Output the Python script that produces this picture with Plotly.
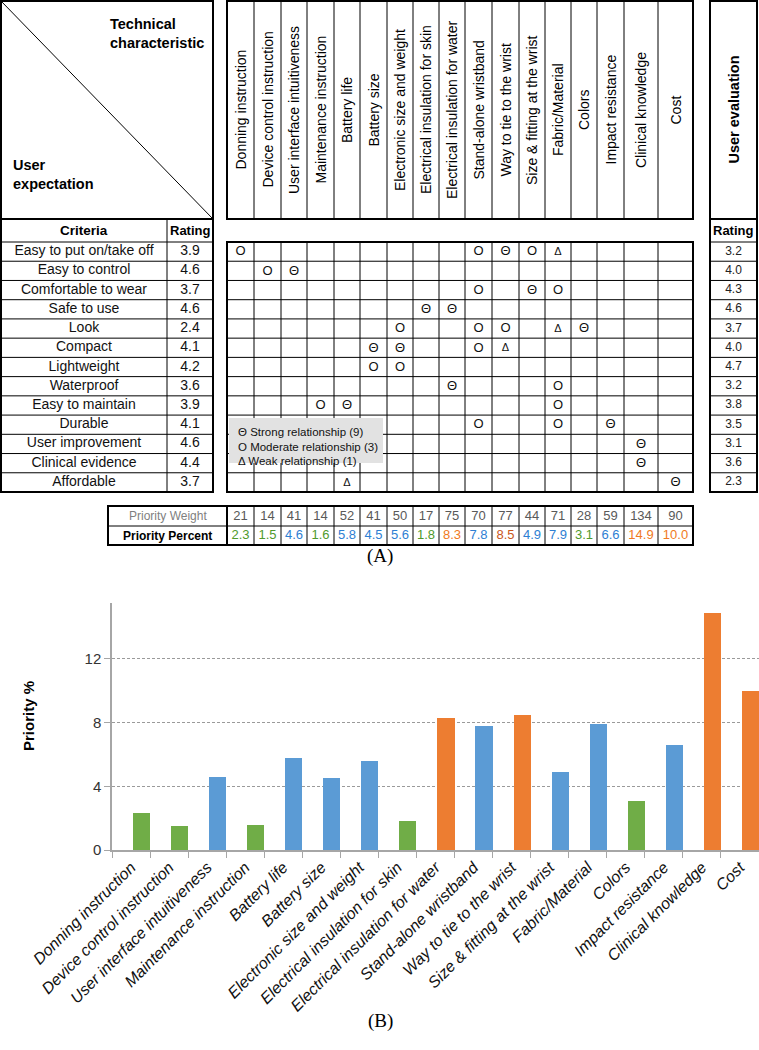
import plotly.graph_objects as go

# ---------------- data ----------------
tech_chars = ["Donning instruction", "Device control instruction", "User interface intuitiveness",
              "Maintenance instruction", "Battery life", "Battery size", "Electronic size and weight",
              "Electrical insulation for skin", "Electrical insulation for water", "Stand-alone wristband",
              "Way to tie to the wrist", "Size & fitting at the wrist", "Fabric/Material", "Colors",
              "Impact resistance", "Clinical knowledge", "Cost"]
criteria = ["Easy to put on/take off", "Easy to control", "Comfortable to wear", "Safe to use", "Look",
            "Compact", "Lightweight", "Waterproof", "Easy to maintain", "Durable", "User improvement",
            "Clinical evidence", "Affordable"]
expectation_rating = [3.9, 4.6, 3.7, 4.6, 2.4, 4.1, 4.2, 3.6, 3.9, 4.1, 4.6, 4.4, 3.7]
evaluation_rating = [3.2, 4.0, 4.3, 4.6, 3.7, 4.0, 4.7, 3.2, 3.8, 3.5, 3.1, 3.6, 2.3]
priority_weight = [21, 14, 41, 14, 52, 41, 50, 17, 75, 70, 77, 44, 71, 28, 59, 134, 90]
priority_percent = [2.3, 1.5, 4.6, 1.6, 5.8, 4.5, 5.6, 1.8, 8.3, 7.8, 8.5, 4.9, 7.9, 3.1, 6.6, 14.9, 10.0]
# (criterion index, technical characteristic index, symbol)
rel_row = [0, 0, 0, 0, 0, 1, 1, 2, 2, 2, 3, 3, 4, 4, 4, 4, 4, 5, 5, 5, 5, 6, 6, 7, 7, 8, 8, 8, 9, 9, 9, 10, 11, 12, 12]
rel_col = [0, 9, 10, 11, 12, 1, 2, 9, 11, 12, 7, 8, 6, 9, 10, 12, 13, 5, 6, 9, 10, 5, 6, 8, 12, 3, 4, 12, 9, 12, 14, 15, 15, 4, 16]
rel_sym = ["O", "O", "Θ", "O", "Δ", "O", "Θ", "O", "Θ", "O", "Θ", "Θ", "O", "O", "O", "Δ", "Θ", "Θ", "Θ", "O", "Δ",
           "O", "O", "Θ", "O", "O", "Θ", "O", "O", "O", "Θ", "Θ", "Θ", "Δ", "Θ"]
legend_lines = ["Θ Strong relationship (9)", "O Moderate relationship (3)", "Δ Weak relationship (1)"]

# ---------------- layout constants (pixel grid) ----------------
W, H = 759, 1050
col_edges = [227, 254, 281, 307, 334, 360, 387, 413, 439, 465, 492, 519, 545, 571, 597, 624, 658, 693]
head_top, head_bot = 1, 219
body_top, body_bot = 242, 492
n_rows = len(criteria)
row_h = (body_bot - body_top) / n_rows
row_edges = [body_top + i * row_h for i in range(n_rows + 1)]
row_mid = [body_top + (i + 0.5) * row_h for i in range(n_rows)]
col_mid = [(col_edges[i] + col_edges[i + 1]) / 2 for i in range(len(tech_chars))]
left_x0, left_div, left_x1 = 1, 167, 213
eval_x0, eval_x1 = 710, 757
bt_x0, bt_div, bt_x1 = 108, 227, 693
bt_y0, bt_ym, bt_y1 = 506, 526, 545

GREEN, BLUE, ORANGE = "#70AD47", "#5B9BD5", "#ED7D31"
TEXT_COL = {GREEN: "#4F9A2C", BLUE: "#2E80D3", ORANGE: "#F07A22"}


def group_color(v):
    if v < 4:
        return GREEN
    if v < 8:
        return BLUE
    return ORANGE


bar_colors = [group_color(v) for v in priority_percent]
pct_text_colors = [TEXT_COL[c] for c in bar_colors]
pct_text_colors[10] = "#C9561A"
FONT = "Liberation Sans"

shapes = []


def line(x0, y0, x1, y1, w=1.0, color="black"):
    shapes.append(dict(type="line", xref="x2", yref="y2", x0=x0, y0=y0, x1=x1, y1=y1,
                       line=dict(color=color, width=w)))


def rect(x0, y0, x1, y1, w=2.0, fill=None):
    d = dict(type="rect", xref="x2", yref="y2", x0=x0, y0=y0, x1=x1, y1=y1,
             line=dict(color="black", width=w))
    if fill:
        d["fillcolor"] = fill
        d["line"] = dict(width=0)
    shapes.append(d)


# header boxes
line(left_x0, head_top, left_x1, head_bot, 1)
rect(left_x0, head_top, left_x1, head_bot, 2)
for x in col_edges[1:-1]:
    line(x, head_top, x, head_bot, 1)
rect(col_edges[0], head_top, col_edges[-1], head_bot, 2)
rect(eval_x0, head_top, eval_x1, head_bot, 2)

# criteria table
for y in row_edges[:-1]:
    line(left_x0, y, left_x1, y, 1)
line(left_div, head_bot, left_div, body_bot, 1)
rect(left_x0, head_bot, left_x1, body_bot, 2)

# matrix body
for y in row_edges[1:-1]:
    line(col_edges[0], y, col_edges[-1], y, 1)
for x in col_edges[1:-1]:
    line(x, body_top, x, body_bot, 1)
rect(col_edges[0], body_top, col_edges[-1], body_bot, 2)

# evaluation column
for y in row_edges[:-1]:
    line(eval_x0, y, eval_x1, y, 1)
rect(eval_x0, head_bot, eval_x1, body_bot, 2)

# legend box
rect(229, 418, 383, 463, fill="#E2E2E2")

# bottom priority table
line(bt_x0, bt_ym, bt_x1, bt_ym, 1)
for x in col_edges[1:-1]:
    line(x, bt_y0, x, bt_y1, 1)
line(bt_div, bt_y0, bt_div, bt_y1, 2)
rect(bt_x0, bt_y0, bt_x1, bt_y1, 2)

fig = go.Figure()

# ---------------- bar chart (B) ----------------
fig.add_trace(go.Bar(x=tech_chars, y=priority_percent, marker=dict(color=bar_colors, line=dict(width=0)),
                     width=0.45, offset=0.05, xaxis="x", yaxis="y", showlegend=False))

# ---------------- table text (A) ----------------
txt = dict(xaxis="x2", yaxis="y2", mode="text", showlegend=False, cliponaxis=False, hoverinfo="skip")
fig.add_trace(go.Scatter(x=[(left_x0 + left_div) / 2] * n_rows, y=row_mid, text=criteria,
                         textfont=dict(family=FONT, size=14, color="#111"), **txt))
fig.add_trace(go.Scatter(x=[(left_div + left_x1) / 2] * n_rows, y=row_mid,
                         text=[f"{v:.1f}" for v in expectation_rating],
                         textfont=dict(family=FONT, size=14, color="#111"), **txt))
fig.add_trace(go.Scatter(x=[(eval_x0 + eval_x1) / 2] * n_rows, y=row_mid,
                         text=[f"{v:.1f}" for v in evaluation_rating],
                         textfont=dict(family=FONT, size=12, color="#222"), **txt))
fig.add_trace(go.Scatter(x=[col_mid[c] for c in rel_col], y=[row_mid[r] + 0.5 for r in rel_row], text=rel_sym,
                         textfont=dict(family=FONT, size=[13 if s != "Δ" else 11 for s in rel_sym],
                                       color="#111"), **txt))
fig.add_trace(go.Scatter(x=col_mid, y=[(bt_y0 + bt_ym) / 2 + 0.5] * len(col_mid),
                         text=[str(v) for v in priority_weight],
                         textfont=dict(family=FONT, size=13, color="#595959"), **txt))
fig.add_trace(go.Scatter(x=col_mid, y=[(bt_ym + bt_y1) / 2 + 0.5] * len(col_mid),
                         text=[f"{v:.1f}" for v in priority_percent],
                         textfont=dict(family=FONT, size=13, color=pct_text_colors), **txt))

ann = []


def a(x, y, text, size=14, bold=False, angle=0, xanchor="center", color="black", family=FONT):
    ann.append(dict(x=x, y=y, xref="x2", yref="y2", text=f"<b>{text}</b>" if bold else text,
                    showarrow=False, textangle=angle, xanchor=xanchor, yanchor="middle", align="left",
                    font=dict(family=family, size=size, color=color)))


a(108, 33, "Technical<br>characteristic", 14.5, True, xanchor="left")
a(11, 174, "User<br>expectation", 14.5, True, xanchor="left")
for i, t in enumerate(tech_chars):
    a(col_mid[i], (head_top + head_bot) / 2, t, 14, angle=-90)
a((eval_x0 + eval_x1) / 2, (head_top + head_bot) / 2, "User evaluation", 14.5, True, angle=-90)
a((left_x0 + left_div) / 2, (head_bot + body_top) / 2, "Criteria", 13.5, True)
a((left_div + left_x1) / 2, (head_bot + body_top) / 2, "Rating", 13, True)
a((eval_x0 + eval_x1) / 2, (head_bot + body_top) / 2, "Rating", 13, True)
for k, t in enumerate(legend_lines):
    a(236, 432 + 14.5 * k, t, 11.5, xanchor="left", color="#111")
a((bt_x0 + bt_div) / 2, (bt_y0 + bt_ym) / 2, "Priority Weight", 12, color="#7F7F7F")
a((bt_x0 + bt_div) / 2, (bt_ym + bt_y1) / 2, "Priority Percent", 12, True)
a(380, 556, "(A)", 19, family="Liberation Serif")
a(380, 1021, "(B)", 19, family="Liberation Serif")
a(28, 716, "Priority %", 15, True, angle=-90)

fig.update_layout(
    width=W, height=H, margin=dict(l=0, r=0, t=0, b=0, autoexpand=False),
    paper_bgcolor="white", plot_bgcolor="rgba(0,0,0,0)",
    shapes=shapes, annotations=ann, showlegend=False, bargap=0,
    xaxis=dict(domain=[112 / W, 1.0], anchor="y", type="category", range=[-0.5, 16.5], automargin=False,
               tickson="boundaries", ticks="outside", ticklen=6, tickcolor="#A6A6A6", tickwidth=1.3,
               showline=True, linecolor="#A6A6A6", linewidth=1.5, showgrid=False, tickangle=-45,
               tickfont=dict(family=FONT, size=16, color="#111", style="italic")),
    yaxis=dict(domain=[1 - 850 / H, 1 - 603 / H], anchor="x", range=[0, 15.5], tick0=0, dtick=4, automargin=False,
               showgrid=True, gridcolor="#9A9A9A", gridwidth=1.3, griddash="3px,2px", zeroline=False,
               showline=True, linecolor="#A6A6A6", linewidth=1.5, ticks="outside", ticklen=6,
               tickcolor="#A6A6A6", tickwidth=1.3, tickfont=dict(family=FONT, size=15, color="#333")),
    xaxis2=dict(domain=[0, 1], anchor="y2", range=[0, W], visible=False, fixedrange=True, automargin=False),
    yaxis2=dict(domain=[0, 1], anchor="x2", range=[H, 0], visible=False, fixedrange=True, automargin=False),
)

fig.write_html("out.html", config={"displayModeBar": False},
               post_script="document.body.style.margin='0';document.body.style.overflow='hidden';")
